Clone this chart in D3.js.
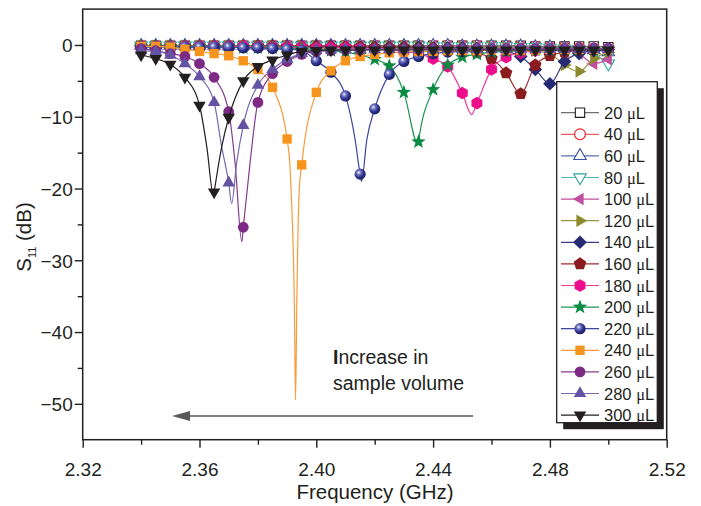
<!DOCTYPE html>
<html><head><meta charset="utf-8">
<script src="https://cdn.jsdelivr.net/npm/d3@7"></script>
<style>body{margin:0;background:#fff}svg{display:block;font-family:Arial,"Liberation Sans",Helvetica,sans-serif}</style>
</head><body><svg id="c" width="701" height="506"></svg>
<script>
// ---------- data ----------
const freqs = [2.340,2.345,2.350,2.355,2.360,2.365,2.370,2.375,2.380,2.385,2.390,2.395,2.400,2.405,2.410,2.415,2.420,2.425,2.430,2.435,2.440,2.445,2.450,2.455,2.460,2.465,2.470,2.475,2.480,2.485,2.490,2.495,2.500];
const volumes = ["20","40","60","80","100","120","140","160","180","200","220","240","260","280","300"];
const xTicks = [2.32,2.36,2.40,2.44,2.48,2.52];
const xMinor = [2.34,2.38,2.42,2.46,2.50];
const yTicks = [0,-10,-20,-30,-40,-50];
const yMinor = [-5,-15,-25,-35,-45];

const s20  = [-0.1,-0.1,-0.1,-0.1,-0.1,-0.1,-0.1,-0.1,-0.1,-0.1,-0.1,-0.1,-0.1,-0.1,-0.1,-0.1,-0.1,-0.1,-0.1,-0.1,-0.1,-0.1,-0.1,-0.1,-0.1,-0.1,-0.1,-0.2,-0.2,-0.2,-0.2,-0.2,-0.3];
const s40  = [-0.1,-0.1,-0.1,-0.1,-0.1,-0.1,-0.1,-0.1,-0.1,-0.1,-0.1,-0.1,-0.1,-0.1,-0.1,-0.1,-0.1,-0.1,-0.1,-0.1,-0.1,-0.1,-0.1,-0.1,-0.2,-0.2,-0.2,-0.2,-0.3,-0.3,-0.4,-0.5,-0.6];
const s60  = [-0.1,-0.1,-0.1,-0.1,-0.1,-0.1,-0.1,-0.1,-0.1,-0.1,-0.1,-0.1,-0.1,-0.1,-0.1,-0.1,-0.1,-0.1,-0.1,-0.1,-0.1,-0.1,-0.2,-0.2,-0.2,-0.2,-0.2,-0.3,-0.3,-0.4,-0.5,-0.7,-1.0];
const s80  = [-0.1,-0.1,-0.1,-0.1,-0.1,-0.1,-0.1,-0.1,-0.1,-0.1,-0.1,-0.1,-0.1,-0.1,-0.1,-0.1,-0.1,-0.1,-0.1,-0.1,-0.2,-0.2,-0.2,-0.2,-0.2,-0.2,-0.3,-0.3,-0.4,-0.5,-0.6,-1.2,-2.6];
const s100 = [-0.1,-0.1,-0.1,-0.1,-0.1,-0.1,-0.1,-0.1,-0.1,-0.1,-0.1,-0.1,-0.1,-0.1,-0.1,-0.1,-0.1,-0.2,-0.2,-0.2,-0.2,-0.2,-0.2,-0.2,-0.3,-0.3,-0.3,-0.4,-0.4,-0.6,-1.2,-2.6,-2.0];
const s120 = [-0.1,-0.1,-0.1,-0.1,-0.1,-0.1,-0.1,-0.1,-0.1,-0.1,-0.1,-0.1,-0.1,-0.2,-0.2,-0.2,-0.2,-0.2,-0.2,-0.2,-0.3,-0.3,-0.3,-0.3,-0.4,-0.4,-0.5,-0.8,-1.2,-2.8,-3.7,-1.9,-1.0];
const s140 = [-0.2,-0.2,-0.2,-0.2,-0.2,-0.2,-0.2,-0.2,-0.2,-0.2,-0.2,-0.2,-0.2,-0.2,-0.3,-0.3,-0.3,-0.3,-0.3,-0.3,-0.4,-0.4,-0.4,-0.5,-0.6,-0.9,-1.6,-3.4,-5.4,-2.3,-1.2,-0.8,-0.6];
const s160 = [-0.2,-0.2,-0.2,-0.2,-0.2,-0.2,-0.2,-0.2,-0.2,-0.2,-0.3,-0.3,-0.3,-0.3,-0.3,-0.3,-0.4,-0.4,-0.4,-0.5,-0.5,-0.6,-0.8,-1.1,-1.9,-3.9,-6.8,-2.8,-1.5,-1.0,-0.7,-0.6,-0.5];
const s180 = [-0.2,-0.2,-0.2,-0.2,-0.2,-0.2,-0.2,-0.2,-0.3,-0.3,-0.3,-0.3,-0.4,-0.4,-0.4,-0.5,-0.6,-0.7,-0.9,-1.2,-1.9,-3.0,-6.7,-8.1,-3.4,-1.7,-1.1,-0.8,-0.7,-0.6,-0.5,-0.5,-0.5];
const s200 = [-0.2,-0.2,-0.2,-0.3,-0.3,-0.3,-0.3,-0.4,-0.4,-0.4,-0.5,-0.5,-0.6,-0.8,-1.0,-1.4,-2.0,-2.9,-6.6,-13.5,-6.2,-2.8,-1.7,-1.3,-1.0,-0.9,-0.8,-0.7,-0.7,-0.6,-0.6,-0.6,-0.6];
const s220 = [-0.3,-0.3,-0.3,-0.3,-0.3,-0.3,-0.3,-0.4,-0.4,-0.5,-0.6,-0.8,-2.2,-3.8,-7.1,-18.0,-8.9,-4.1,-2.3,-1.6,-1.2,-1.0,-0.9,-0.8,-0.7,-0.7,-0.6,-0.6,-0.6,-0.6,-0.5,-0.5,-0.5];
const s240 = [-0.2,-0.2,-0.3,-0.6,-0.9,-1.2,-1.5,-2.2,-3.4,-5.9,-13.1,-16.7,-6.6,-3.6,-2.2,-1.6,-1.3,-1.1,-1.0,-0.9,-0.9,-0.8,-0.8,-0.8,-0.7,-0.7,-0.7,-0.7,-0.6,-0.6,-0.6,-0.6,-0.6];
const s260 = [-0.5,-0.8,-1.2,-1.6,-2.6,-4.5,-9.3,-25.4,-8.0,-4.0,-2.3,-1.3,-0.9,-0.8,-0.7,-0.7,-0.6,-0.6,-0.6,-0.6,-0.6,-0.5,-0.5,-0.5,-0.5,-0.5,-0.5,-0.5,-0.5,-0.5,-0.5,-0.5,-0.5];
const s280 = [-0.8,-0.9,-1.4,-2.6,-4.4,-8.0,-19.2,-11.2,-5.6,-3.4,-2.0,-1.2,-0.8,-0.7,-0.6,-0.6,-0.6,-0.6,-0.6,-0.6,-0.6,-0.6,-0.6,-0.6,-0.6,-0.6,-0.6,-0.6,-0.6,-0.6,-0.6,-0.6,-0.6];
const s300 = [-1.4,-1.9,-2.7,-4.5,-8.4,-20.5,-10.1,-5.0,-3.0,-2.1,-1.4,-0.9,-0.8,-0.7,-0.7,-0.7,-0.7,-0.7,-0.7,-0.7,-0.7,-0.7,-0.7,-0.7,-0.7,-0.7,-0.7,-0.7,-0.7,-0.7,-0.7,-0.7,-0.7];

// extra points on the measured curves between markers (resonance dips)
const dip180 = [[2.4532,-9.7]];
const dip200 = [[2.4349,-13.9]];
const dip220 = [[2.4133,-13.2],[2.4155,-19.0],[2.4173,-13.2]];
const dip240 = [[2.3910,-17.0],[2.3916,-22.5],[2.3922,-30.0],[2.3925,-36.5],[2.3929,-49.5],[2.3933,-36.5],[2.3936,-29.0],[2.3938,-24.8],[2.3942,-20.0]];
const dip260 = [[2.3722,-16.5],[2.3745,-27.4],[2.3773,-16.5]];
const dip280 = [[2.3676,-14.2],[2.3710,-22.1],[2.3727,-16.5]];
const dip300 = [[2.3625,-14.2],[2.3648,-21.0],[2.3676,-14.2]];

const colors = ["#231f20","#ed1c24","#3953a4","#2fa59a","#c0509e","#8c8a2c","#262a73","#8a1c1f","#ec0d8c","#0b8a43","#2e3192","#f7941d","#7d2a84","#6452a2","#231f20"];
const lineColors = ["#6d6e71","#f15a60","#5b6fb5","#4fb3aa","#c0509e","#9a9844","#3a3f86","#9a2e31","#ec3d9c","#1d9350","#3f44a0","#f89a3a","#873a8e","#7868b0","#231f20"];
const shapes = ["square","circle","tri","tridown","trileft","triright","diamond","pentagon","hexagon","star","sphere","square","circle","tri","tridown"];
const openShape = [true,true,true,true,false,false,false,false,false,false,false,false,false,false,false];

const values = [s20,s40,s60,s80,s100,s120,s140,s160,s180,s200,s220,s240,s260,s280,s300];
const dips = [[],[],[],[],[],[],[],[],dip180,dip200,dip220,dip240,dip260,dip280,dip300];

// ---------- drawing ----------
const svg = d3.select("#c");
const x = d3.scaleLinear().domain([2.32,2.52]).range([82.7,666.7]);
const y = d3.scaleLinear().domain([-55,5]).range([439.7,9.1]);
const ink = "#231f20";

const defs = svg.append("defs");
const g = defs.append("radialGradient").attr("id","sph").attr("cx","38%").attr("cy","35%").attr("r","65%");
g.append("stop").attr("offset","0%").attr("stop-color","#ffffff");
g.append("stop").attr("offset","25%").attr("stop-color","#7d82c8");
g.append("stop").attr("offset","65%").attr("stop-color","#2e3192");
g.append("stop").attr("offset","100%").attr("stop-color","#1a1c5a");

function poly(n, r, rot){
  const p=[];
  for(let i=0;i<n;i++){const a=rot+2*Math.PI*i/n;p.push([(r*Math.sin(a)).toFixed(2),(-r*Math.cos(a)).toFixed(2)]);}
  return "M"+p.map(d=>d.join(",")).join("L")+"Z";
}
function circ(r){return `M${-r},0A${r},${r} 0 1,0 ${r},0A${r},${r} 0 1,0 ${-r},0Z`;}
function star(ro, ri){
  const p=[];
  for(let i=0;i<10;i++){const r=i%2?ri:ro;const a=Math.PI*i/5;p.push([(r*Math.sin(a)).toFixed(2),(-r*Math.cos(a)).toFixed(2)]);}
  return "M"+p.map(d=>d.join(",")).join("L")+"Z";
}
const shapePath = {
  square: poly(4,6.6,Math.PI/4),
  circle: circ(5.4),
  tri: poly(3,7.2,0),
  tridown: poly(3,7.2,Math.PI),
  trileft: poly(3,7.2,-Math.PI/2),
  triright: poly(3,7.2,Math.PI/2),
  diamond: poly(4,6.8,0),
  pentagon: poly(5,6.6,0),
  hexagon: poly(6,6.3,0),
  star: star(7.6,3.1),
  sphere: circ(5.6)
};

function drawMarker(sel, i){
  const sh = shapes[i];
  sel.attr("d", shapePath[sh])
    .attr("fill", openShape[i] ? "#fff" : (sh==="sphere" ? "url(#sph)" : colors[i]))
    .attr("stroke", openShape[i] ? colors[i] : "none")
    .attr("stroke-width", openShape[i] ? 1.1 : 0);
}

// axes
const xAxis = svg.append("g").attr("transform",`translate(0,${y(-55)})`)
  .call(d3.axisBottom(x).tickValues(xTicks).tickSize(8).tickFormat(d3.format(".2f")));
const xAxisMinor = svg.append("g").attr("transform",`translate(0,${y(-55)})`)
  .call(d3.axisBottom(x).tickValues(xMinor).tickSize(5).tickFormat(""));
const yAxis = svg.append("g").attr("transform",`translate(${x(2.32)},0)`)
  .call(d3.axisLeft(y).tickValues(yTicks).tickSize(8).tickFormat(d3.format("d")));
const yAxisMinor = svg.append("g").attr("transform",`translate(${x(2.32)},0)`)
  .call(d3.axisLeft(y).tickValues(yMinor).tickSize(5).tickFormat(""));
[xAxis,xAxisMinor,yAxis,yAxisMinor].forEach(a=>{
  a.select(".domain").remove();
  a.selectAll(".tick line").attr("stroke",ink).attr("stroke-width",1.4);
});
xAxis.selectAll("text").attr("y",36).attr("dy",null).attr("font-size",19).attr("fill",ink).attr("font-family","Arial, Liberation Sans, sans-serif");
yAxis.selectAll("text").attr("x",-10).attr("dy","0.36em").attr("font-size",19).attr("fill",ink).attr("font-family","Arial, Liberation Sans, sans-serif");

// frame
svg.append("rect").attr("x",x(2.32)).attr("y",y(5)).attr("width",x(2.52)-x(2.32)).attr("height",y(-55)-y(5))
  .attr("fill","none").attr("stroke",ink).attr("stroke-width",1.5);

// series
const line = d3.line().x(d=>x(d[0])).y(d=>y(d[1])).curve(d3.curveMonotoneX);
const plot = svg.append("g");
volumes.forEach((v,i)=>{
  const pts = freqs.map((f,k)=>[f, values[i][k]]);
  const linePts = pts.concat(dips[i]).sort((a,b)=>a[0]-b[0]);
  const sg = plot.append("g");
  sg.append("path").attr("d",line(linePts)).attr("fill","none").attr("stroke",lineColors[i]).attr("stroke-width",1.2);
  sg.selectAll("path.m").data(pts).enter().append("path").attr("class","m")
    .attr("transform",d=>`translate(${x(d[0])},${y(d[1])})`)
    .call(s=>drawMarker(s,i));
});

// annotation
const ann = svg.append("text").attr("x",333).attr("y",364).attr("font-size",19.5).attr("fill",ink);
ann.append("tspan").attr("font-weight","bold").text("I");
ann.append("tspan").text("ncrease in");
svg.append("text").attr("x",333).attr("y",390).attr("font-size",19.5).attr("fill",ink).text("sample volume");
svg.append("line").attr("x1",473).attr("x2",186).attr("y1",416).attr("y2",416).attr("stroke","#58595b").attr("stroke-width",1.5);
svg.append("path").attr("d","M172,416L190,411L190,421Z").attr("fill","#58595b");

// axis titles
svg.append("text").attr("x",375).attr("y",499).attr("text-anchor","middle").attr("font-size",20.5).attr("fill",ink).text("Frequency (GHz)");
const yt = svg.append("text").attr("transform","translate(31,237) rotate(-90)").attr("text-anchor","middle").attr("font-size",20.5).attr("fill",ink);
yt.append("tspan").text("S");
yt.append("tspan").attr("font-size",11).attr("dy",5).text("11");
yt.append("tspan").attr("dy",-5).text(" (dB)");

// legend
const L = {x:556.7, y:81.7, w:100.6, h:341};
svg.append("rect").attr("x",L.x+6.5).attr("y",L.y+6.5).attr("width",L.w).attr("height",L.h).attr("fill",ink);
svg.append("rect").attr("x",L.x).attr("y",L.y).attr("width",L.w).attr("height",L.h).attr("fill","#fff").attr("stroke",ink).attr("stroke-width",1.3);
volumes.forEach((v,i)=>{
  const cy = 112.7 + 21.6*i;
  const lg = svg.append("g");
  lg.append("line").attr("x1",561).attr("x2",599).attr("y1",cy).attr("y2",cy).attr("stroke",lineColors[i]).attr("stroke-width",1.2);
  lg.append("path").attr("transform",`translate(580,${cy})`).call(s=>drawMarker(s,i));
  const t = lg.append("text").attr("x",604).attr("y",cy+6).attr("font-size",16.5).attr("fill",ink);
  t.append("tspan").text(v+" ");
  t.append("tspan").attr("font-family","Liberation Serif, serif").text("\u03bc");
  t.append("tspan").text("L");
});
</script></body></html>
